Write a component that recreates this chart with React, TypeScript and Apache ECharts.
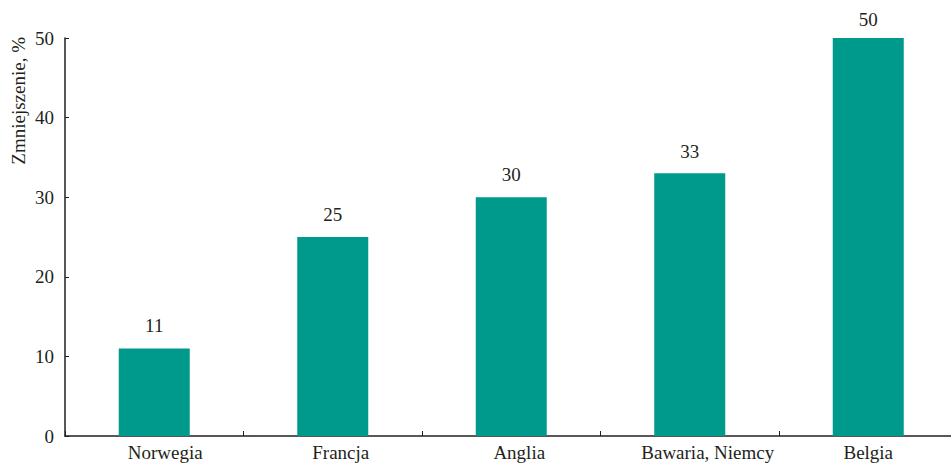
import React, { useEffect, useRef } from "react";
import * as echarts from "echarts";

const categories = ["Norwegia", "Francja", "Anglia", "Bawaria, Niemcy", "Belgia"];
const values = [11, 25, 30, 33, 50];
const yTicks = [0, 10, 20, 30, 40, 50];
const yAxisTitle = "Zmniejszenie, %";

// layout: horizontal shift of each category label (px, to the right), as in the reference
const labelShift = [11, 8, 8, 18, 0];
// layout: gap between each bar top and its value label (px)
const valueLabelGap = [13, 13, 13, 12, 9];

const FONT = "'Liberation Serif', 'DejaVu Serif', serif";
const TEXT = "#231f20";

export default function App() {
  const ref = useRef<HTMLDivElement>(null);
  useEffect(() => {
    if (!ref.current) return;
    document.body.style.margin = "0";
    document.body.style.overflow = "hidden";
    const chart = echarts.init(ref.current, undefined, { renderer: "svg" });
    chart.setOption({
      animation: false,
      backgroundColor: "#ffffff",
      textStyle: { fontFamily: FONT },
      grid: { left: 65, top: 38, bottom: 28, right: 2.5, containLabel: false },
      xAxis: {
        type: "category",
        data: categories.map((c, i) => ({
          value: c,
          textStyle: { padding: [0, 0, 0, labelShift[i] * 2] },
        })),
        axisLine: { lineStyle: { color: TEXT, width: 1.5 } },
        axisTick: { show: true, inside: true, length: 5, alignWithLabel: false, lineStyle: { color: TEXT } },
        axisLabel: { color: TEXT, fontFamily: FONT, fontSize: 19, margin: 7 },
      },
      yAxis: {
        type: "value",
        min: yTicks[0],
        max: yTicks[yTicks.length - 1],
        interval: 10,
        splitLine: { show: false },
        axisLine: { show: true, lineStyle: { color: TEXT, width: 1.5 } },
        axisTick: { show: true, inside: true, length: 4, lineStyle: { color: TEXT } },
        axisLabel: { color: TEXT, fontFamily: FONT, fontSize: 19, margin: 11 },
      },
      graphic: [
        {
          type: "text",
          x: 18,
          y: 37,
          rotation: Math.PI / 2,
          style: {
            text: yAxisTitle,
            fontFamily: FONT,
            fontSize: 19,
            fill: TEXT,
            align: "right",
            verticalAlign: "middle",
          },
        },
      ],
      series: [
        {
          type: "bar",
          data: values.map((v, i) => ({ value: v, label: { distance: valueLabelGap[i] } })),
          barWidth: 71,
          itemStyle: { color: "#009a8d" },
          label: {
            show: true,
            position: "top",
            distance: 13,
            color: TEXT,
            fontFamily: FONT,
            fontSize: 19,
          },
        },
      ],
    });
    return () => chart.dispose();
  }, []);
  return <div ref={ref} style={{ width: 960, height: 464 }} />;
}
